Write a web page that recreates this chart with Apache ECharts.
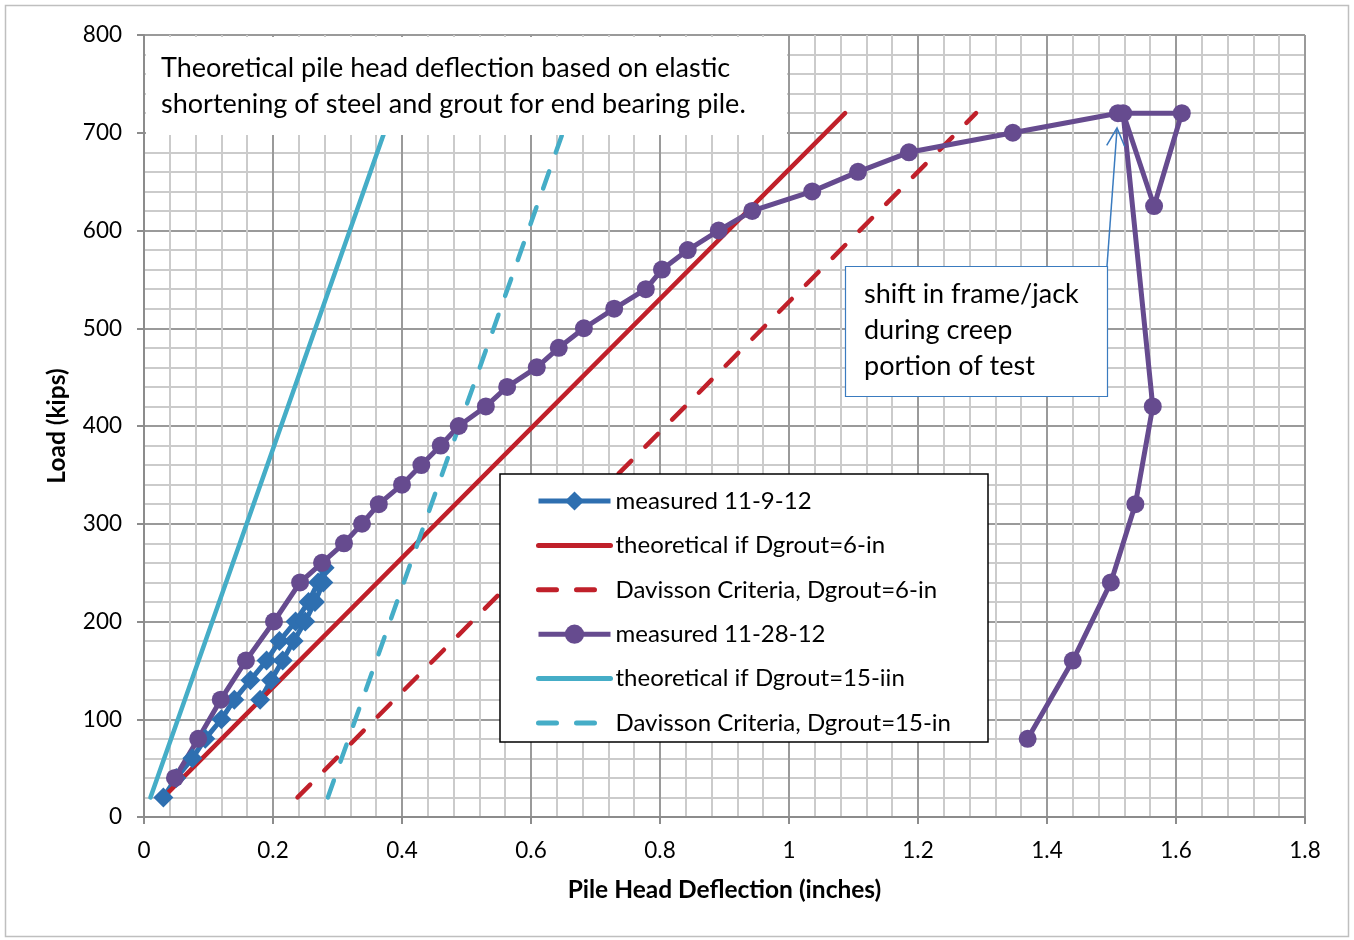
<!DOCTYPE html>
<html>
<head>
<meta charset="utf-8">
<title>Pile load test</title>
<script src="https://cdn.jsdelivr.net/npm/echarts@6/dist/echarts.min.js"></script>
<style>
  html, body { margin: 0; padding: 0; background: #fff; }
  #chart { width: 1354px; height: 940px; }
</style>
</head>
<body>
<div id="chart"></div>
<script>
// measured 11-9-12 (load, then partial unload)
var blueX = [0.03, 0.05, 0.075, 0.095, 0.12, 0.14, 0.165, 0.19, 0.21, 0.235, 0.255, 0.27, 0.28, 0.278, 0.265, 0.25, 0.232, 0.215, 0.197, 0.18]
var blueY = [20, 40, 60, 80, 100, 120, 140, 160, 180, 200, 220, 240, 255, 240, 220, 200, 180, 160, 140, 120]

// measured 11-28-12
var purpleX = [0.048, 0.084, 0.119, 0.158, 0.2015, 0.242, 0.276, 0.31, 0.338, 0.364, 0.40, 0.43, 0.46, 0.488, 0.53, 0.563, 0.609, 0.643, 0.682, 0.729, 0.778, 0.803, 0.843, 0.891, 0.943, 1.036, 1.107, 1.186, 1.347, 1.51, 1.609, 1.566, 1.518, 1.564, 1.537, 1.499, 1.44, 1.37]
var purpleY = [40, 80, 120, 160, 200, 240, 260, 280, 300, 320, 340, 360, 380, 400, 420, 440, 460, 480, 500, 520, 540, 560, 580, 600, 620, 640, 660, 680, 700, 720, 720, 625, 720, 420, 320, 240, 160, 80]

// theoretical / Davisson lines (end points)
var theo6X = [0.03, 1.087]
var theo6Y = [20, 720]
var dav6X = [0.238, 1.29]
var dav6Y = [20, 720]
var theo15X = [0.01, 0.383]
var theo15Y = [20, 720]
var dav15X = [0.285, 0.66]
var dav15Y = [20, 720]

var xTicks = [0, 1.8, 0.2]
var yTicks = [0, 800, 100]

function pairs (xs, ys) {
  return xs.map(function (x, i) { return [x, ys[i]] })
}

var font = 'Lato, "Open Sans", sans-serif'
var blue = '#2e6fb0'
var red = '#c0202a'
var purple = '#664b8f'
var cyan = '#45adc7'
var dash = [18, 20]
var noMark = { opacity: 0 }

var chart = echarts.init(document.getElementById('chart'))
chart.setOption({
  animation: false,
  backgroundColor: '#fff',
  textStyle: { fontFamily: font },
  grid: {
    left: 144,
    top: 35,
    right: 49,
    bottom: 123
  },
  legend: {
    orient: 'vertical',
    left: 531,
    top: 484,
    itemWidth: 72,
    itemHeight: 24,
    itemGap: 20.4,
    lineStyle: { width: 5 },
    textStyle: { fontSize: 24, color: '#000', fontFamily: font },
    data: [
      { name: 'measured 11-9-12' },
      { name: 'theoretical if Dgrout=6-in', itemStyle: noMark },
      { name: 'Davisson Criteria, Dgrout=6-in', itemStyle: noMark },
      { name: 'measured 11-28-12' },
      { name: 'theoretical if Dgrout=15-iin', itemStyle: noMark },
      { name: 'Davisson Criteria, Dgrout=15-in', itemStyle: noMark }
    ],
    z: 120
  },
  xAxis: {
    type: 'value',
    min: xTicks[0],
    max: xTicks[1],
    interval: xTicks[2],
    name: 'Pile Head Deflection (inches)',
    nameLocation: 'middle',
    nameGap: 61,
    nameTextStyle: { fontSize: 24.5, fontWeight: 'bold', color: '#000', fontFamily: font },
    axisLine: { onZero: false, lineStyle: { color: '#8c8c8c', width: 2 } },
    axisTick: { show: true, length: 7, lineStyle: { color: '#8c8c8c', width: 2 } },
    axisLabel: { fontSize: 22.5, color: '#000', margin: 22, fontFamily: font },
    splitLine: { show: true, lineStyle: { color: '#9a9a9a', width: 2 } },
    minorSplitLine: { show: true, lineStyle: { color: '#cbcbcb', width: 2 } },
    minorTick: { show: false, splitNumber: 5 }
  },
  yAxis: {
    type: 'value',
    min: yTicks[0],
    max: yTicks[1],
    interval: yTicks[2],
    name: 'Load (kips)',
    nameLocation: 'middle',
    nameGap: 74,
    nameRotate: 90,
    nameTextStyle: { fontSize: 24.5, fontWeight: 'bold', color: '#000', fontFamily: font },
    axisLine: { show: true, lineStyle: { color: '#8c8c8c', width: 2 } },
    axisTick: { show: true, length: 7, lineStyle: { color: '#8c8c8c', width: 2 } },
    axisLabel: { fontSize: 22.5, color: '#000', margin: 22, fontFamily: font },
    splitLine: { show: true, lineStyle: { color: '#9a9a9a', width: 2 } },
    minorSplitLine: { show: true, lineStyle: { color: '#cbcbcb', width: 2 } },
    minorTick: { show: false, splitNumber: 5 }
  },
  series: [
    {
      name: 'measured 11-9-12',
      type: 'line',
      data: pairs(blueX, blueY),
      symbol: 'diamond',
      symbolSize: 20,
      lineStyle: { color: blue, width: 5 },
      itemStyle: { color: blue }
    },
    {
      name: 'theoretical if Dgrout=6-in',
      type: 'line',
      data: pairs(theo6X, theo6Y),
      symbol: 'none',
      lineStyle: { color: red, width: 4.5, cap: 'round' },
      itemStyle: { color: red }
    },
    {
      name: 'Davisson Criteria, Dgrout=6-in',
      type: 'line',
      data: pairs(dav6X, dav6Y),
      symbol: 'none',
      lineStyle: { color: red, width: 4.5, type: dash, cap: 'round' },
      itemStyle: { color: red }
    },
    {
      name: 'measured 11-28-12',
      type: 'line',
      data: pairs(purpleX, purpleY),
      symbol: 'circle',
      symbolSize: 18,
      lineStyle: { color: purple, width: 5 },
      itemStyle: { color: purple }
    },
    {
      name: 'theoretical if Dgrout=15-iin',
      type: 'line',
      data: pairs(theo15X, theo15Y),
      symbol: 'none',
      lineStyle: { color: cyan, width: 4.5, cap: 'round' },
      itemStyle: { color: cyan }
    },
    {
      name: 'Davisson Criteria, Dgrout=15-in',
      type: 'line',
      data: pairs(dav15X, dav15Y),
      symbol: 'none',
      lineStyle: { color: cyan, width: 4.5, type: dash, cap: 'round' },
      itemStyle: { color: cyan }
    }
  ],
  graphic: [
    // outer chart border
    {
      type: 'rect',
      shape: { x: 5.5, y: 5.5, width: 1343, height: 931 },
      style: { fill: 'none', stroke: '#bfbfbf', lineWidth: 1.5 },
      z: 100
    },
    // note box top left
    {
      type: 'rect',
      shape: { x: 146, y: 37, width: 641, height: 98 },
      style: { fill: '#fff' },
      z: 100
    },
    {
      type: 'text',
      left: 161,
      top: 50,
      style: {
        text: 'Theoretical pile head deflection based on elastic\nshortening of steel and grout for end bearing pile.',
        font: '27px ' + font,
        lineHeight: 36,
        fill: '#000'
      },
      z: 101
    },
    // legend frame
    {
      type: 'rect',
      shape: { x: 500, y: 474, width: 488, height: 268 },
      style: { fill: '#fff', stroke: '#000', lineWidth: 1.5 },
      z: 100
    },
    // callout box
    {
      type: 'rect',
      shape: { x: 845.5, y: 266.5, width: 262, height: 130 },
      style: { fill: '#fff', stroke: '#3a7bbf', lineWidth: 1.2 },
      z: 100
    },
    {
      type: 'text',
      left: 864,
      top: 276,
      style: {
        text: 'shift in frame/jack\nduring creep\nportion of test',
        font: '27px ' + font,
        lineHeight: 36,
        fill: '#000'
      },
      z: 101
    },
    // arrow
    {
      type: 'line',
      shape: { x1: 1107, y1: 266, x2: 1117, y2: 129 },
      style: { stroke: '#3a7bbf', lineWidth: 1.5 },
      z: 101
    },
    {
      type: 'polyline',
      shape: { points: [[1106.7, 145.3], [1117, 128], [1124.7, 146.5]] },
      style: { stroke: '#3a7bbf', lineWidth: 1.5, fill: 'none' },
      z: 101
    }
  ]
})
</script>
</body>
</html>
